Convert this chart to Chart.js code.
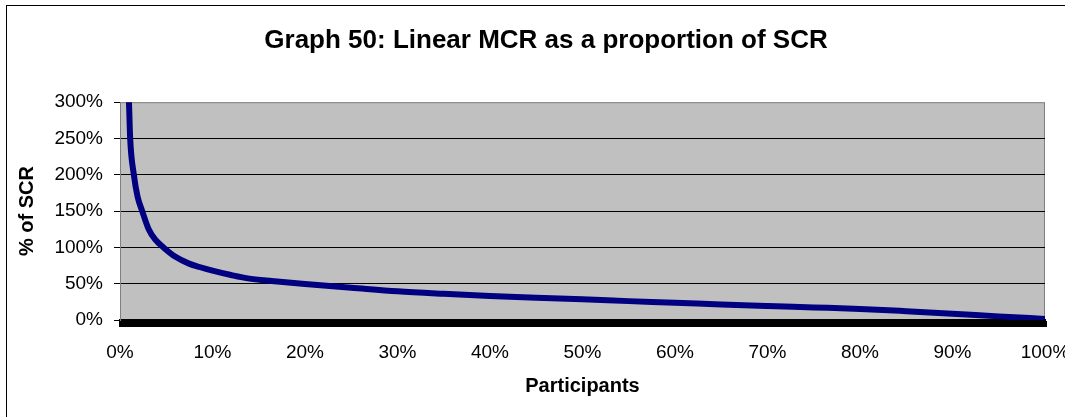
<!DOCTYPE html>
<html lang="en">
<head>
    <meta charset="UTF-8">
    <title>Graph 50: Linear MCR as a proportion of SCR</title>
    <style>
        body { margin: 0; background: #fff; }
        #frame { position: absolute; left: 6px; top: 5px; width: 1120px; height: 460px; border: 1px solid #000; }
        #wrap { position: absolute; left: 0; top: 0; width: 1065px; height: 417px; }
    </style>
    <script src="https://cdn.jsdelivr.net/npm/chart.js"></script>
</head>
<body>
    <div id="frame"></div>
    <div id="wrap"><canvas id="mcr-chart"></canvas></div>
    <script>
        // participants (% of sample, sorted) and linear MCR as % of SCR
        const participants = [0.6, 0.97, 1.1, 1.5, 1.9, 2.4, 3.1, 3.8, 4.7, 6, 7.4, 8.6, 10, 12, 14, 17, 20, 25, 30, 35, 40, 45, 50, 55, 60, 65, 70, 75, 80, 85, 90, 95, 100];
        const mcrPct = [420, 300, 250, 200, 170, 150, 125, 111, 100, 87, 78, 73, 68, 62, 57, 53, 49.5, 44.5, 39.5, 36, 33, 30.5, 28.5, 26, 23.8, 21.3, 19.2, 17.3, 15.3, 12.2, 8.7, 5, 1.5];
        const yTicks = [0, 50, 100, 150, 200, 250, 300];
        const xTicks = [0, 10, 20, 30, 40, 50, 60, 70, 80, 90, 100];

        Chart.defaults.font.family = "'Liberation Sans', Arial, sans-serif";
        Chart.defaults.color = '#000';

        const plotBg = {
            id: 'plotBg',
            beforeDraw(chart) {
                const { ctx, chartArea: a } = chart;
                ctx.save();
                ctx.fillStyle = '#c0c0c0';
                ctx.fillRect(a.left, a.top, a.right - a.left, a.bottom - a.top);
                ctx.strokeStyle = '#808080';
                ctx.lineWidth = 1;
                ctx.strokeRect(a.left + 0.5, a.top + 0.5, a.right - a.left - 1, a.bottom - a.top);
                ctx.restore();
            },
            afterLayout(chart) {
                // title is centred on the whole Excel frame, which runs past the right edge
                if (chart.titleBlock) {
                    chart.titleBlock.left = 0;
                    chart.titleBlock.right = 1092;
                }
            }
        };

        const ctx = document.getElementById('mcr-chart').getContext('2d');
        new Chart(ctx, {
            type: 'line',
            data: {
                datasets: [{
                    data: participants.map((p, i) => ({ x: p, y: mcrPct[i] })),
                    borderColor: '#000080',
                    borderWidth: 6,
                    pointRadius: 0,
                    cubicInterpolationMode: 'monotone',
                    clip: 0,
                }],
            },
            options: {
                responsive: true,
                maintainAspectRatio: false,
                animation: false,
                layout: { padding: { left: 0, right: 20, top: 0, bottom: 0 } },
                plugins: {
                    legend: { display: false },
                    tooltip: { enabled: false },
                    title: {
                        display: true,
                        text: 'Graph 50: Linear MCR as a proportion of SCR',
                        font: { size: 26, weight: 'bold' },
                        color: '#000',
                        padding: { top: 25, bottom: 46 },
                    },
                },
                scales: {
                    x: {
                        type: 'linear',
                        min: 0,
                        max: 100,
                        afterFit(scale) {
                            scale.height = 97;
                            scale.paddingLeft = 0;
                            scale.paddingRight = 0;
                        },
                        ticks: {
                            stepSize: 0.2,
                            autoSkip: false,
                            maxRotation: 0,
                            padding: 14,
                            font: { size: 19 },
                            color: '#000',
                            callback: (v) => xTicks.includes(v) ? v + '%' : '',
                        },
                        grid: {
                            drawOnChartArea: false,
                            tickLength: 7,
                            tickWidth: 3,
                            color: '#000',
                        },
                        border: { color: '#000', width: 2 },
                        title: {
                            display: true,
                            text: 'Participants',
                            font: { size: 20, weight: 'bold' },
                            color: '#000',
                            padding: { top: 0, bottom: 19 },
                        },
                    },
                    y: {
                        min: 0,
                        max: 300,
                        afterFit(scale) { scale.width = 120; },
                        afterBuildTicks(scale) { scale.ticks = yTicks.map(v => ({ value: v })); },
                        ticks: {
                            padding: 11,
                            font: { size: 19 },
                            color: '#000',
                            callback: (v) => v + '%',
                        },
                        grid: {
                            color: (c) => (c.tick && (c.tick.value === 300 || c.tick.value === 0)) ? 'rgba(0,0,0,0)' : '#000',
                            tickColor: '#000',
                            tickLength: 6,
                            lineWidth: 1,
                        },
                        border: { color: '#808080', width: 1 },
                        title: {
                            display: true,
                            text: '% of SCR',
                            font: { size: 20, weight: 'bold' },
                            color: '#000',
                            padding: { top: 15, bottom: 0 },
                        },
                    },
                },
            },
            plugins: [plotBg],
        });
    </script>
</body>
</html>
